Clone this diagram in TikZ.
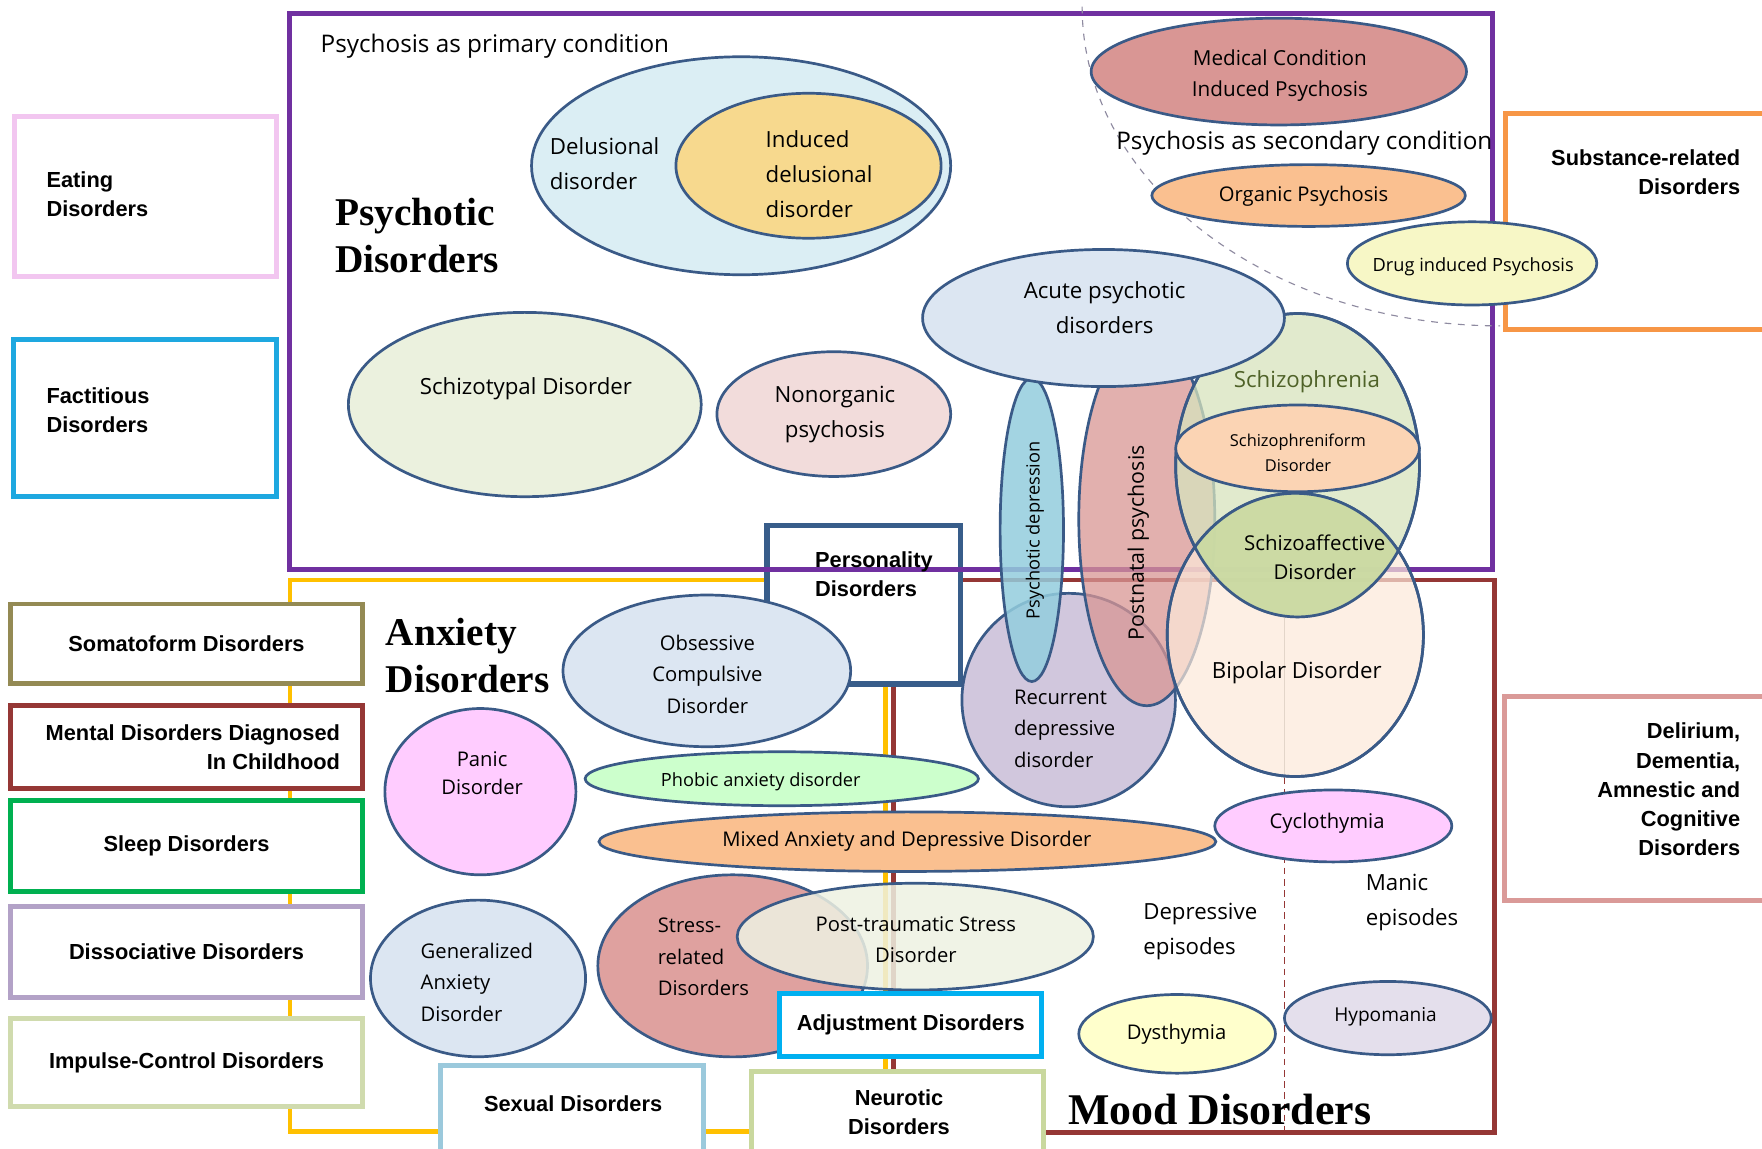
\documentclass[tikz,border=0pt]{standalone}
\usepackage{fontspec}
\setmainfont{Open Sans}
\newfontfamily\boxfont{Liberation Sans}
\newfontfamily\headfont{Liberation Serif}
\usetikzlibrary{shapes.geometric}

% frame colours
\definecolor{psypurple}{HTML}{7030A0}
\definecolor{anxyellow}{HTML}{FFC000}
\definecolor{moodred}{HTML}{953735}
\definecolor{edge}{HTML}{3A5A87}
\definecolor{perscol}{HTML}{385D8A}
\definecolor{eatcol}{HTML}{F2C6F0}
\definecolor{factcol}{HTML}{1EA8E0}
\definecolor{somacol}{HTML}{948A54}
\definecolor{sleepcol}{HTML}{00B050}
\definecolor{dissocol}{HTML}{B3A2C7}
\definecolor{impulcol}{HTML}{D0DBAE}
\definecolor{sexcol}{HTML}{9BC9DC}
\definecolor{neurcol}{HTML}{C9D89E}
\definecolor{adjcol}{HTML}{00B0F0}
\definecolor{subscol}{HTML}{F79646}
\definecolor{delircol}{HTML}{DA9A98}
\definecolor{arcgray}{HTML}{8E8AA0}
% ellipse fills
\definecolor{delblue}{HTML}{DBEEF4}
\definecolor{indgold}{HTML}{F7D98E}
\definecolor{stypcol}{HTML}{EBF1DE}
\definecolor{nonorgcol}{HTML}{F2DCDB}
\definecolor{rosecol}{HTML}{D99694}
\definecolor{orgcol}{HTML}{FAC090}
\definecolor{drugcol}{HTML}{F7F7C6}
\definecolor{paleblue}{HTML}{DCE6F2}
\definecolor{rddcol}{HTML}{CCC1DA}
\definecolor{schizcol}{HTML}{D7E4BD}
\definecolor{bipcol}{HTML}{FDE9D9}
\definecolor{sfmcol}{HTML}{FBD4B4}
\definecolor{pdepcol}{HTML}{93CDDD}
\definecolor{pinkcol}{HTML}{FFCCFF}
\definecolor{phobcol}{HTML}{CCFFCC}
\definecolor{stresscol}{HTML}{DFA19F}
\definecolor{ptsdcol}{HTML}{EEF1E2}
\definecolor{dystcol}{HTML}{FFFFCC}
\definecolor{hypocol}{HTML}{E4DFEC}
\definecolor{lensgreen}{HTML}{C5D89C}
\definecolor{schiztxt}{HTML}{4F6228}

\begin{document}
\begin{tikzpicture}[x=0.5pt,y=-0.5pt,
      oval/.style n args={3}{ellipse, draw=edge, line width=1.2pt, fill=#1,
         minimum width=#2pt, minimum height=#3pt, inner sep=0pt},
      grpbox/.style={rectangle, draw=#1, line width=2.2pt, fill=white, inner sep=0pt},
      lbl/.style={font=\fontsize{9.9}{15.5}\selectfont, align=center, inner sep=0pt},
      lblm/.style={font=\fontsize{9}{14}\selectfont, align=center, inner sep=0pt},
      lbls/.style={font=\fontsize{8.1}{11}\selectfont, align=center, inner sep=0pt},
      boxtxt/.style={font=\boxfont\bfseries\fontsize{9.7}{13}\selectfont, align=center, inner sep=0pt},
      headtxt/.style={font=\headfont\bfseries\fontsize{17.5}{21}\selectfont, align=left, inner sep=0pt}]%
      % ~ canvas
      \fill[white] (0,0) rectangle (1568,1022);%
      \useasboundingbox (0,0) rectangle (1568,1022);%
      %
      % ~ group frames
      \node[grpbox=perscol, fill=none, line width=2.4pt, minimum width=86.2pt, minimum height=70.5pt] (pers) at (768.8,538.2) {};
      \draw[anxyellow, line width=2pt] (pers.west |- 0,516) -- (258,516) -- (258,1007) -- (788,1007) -- (788,0 |- pers.south);%
      \draw[moodred, line width=2pt] (pers.east |- 0,516) -- (1330,516) -- (1330,1008) -- (795,1008) -- (795,0 |- pers.south);%
      \draw[psypurple, line width=2.2pt] (258,12) rectangle (1328,507);%
      % right boxes (drug ellipse lies over them)
      \node[grpbox=subscol, minimum width=135pt, minimum height=96.3pt] (subs) at (1475,197.3) {};
      \node[grpbox=delircol, minimum width=135.5pt, minimum height=90.5pt] (delir) at (1474.5,710.5) {};
      % secondary psychosis arc, episode divider
      \draw[arcgray, dashed, line width=0.5pt] (963,6) arc[start angle=180, end angle=90, x radius=372, y radius=284];%
      \draw[gray!70, line width=0.4pt] (1143,549) -- (1143,692);%
      \draw[moodred, densely dashed, line width=0.6pt] (1143,692) -- (1143,1008);%
      %
      % ~ psychotic ellipses
      \node[oval={delblue}{186.5}{97}] (delus) at (659.5,147.5) {};
      \node[oval={indgold}{118}{64.5}] (induc) at (719.5,147.5) {};
      \node[oval={stypcol}{157}{82}] (stypal) at (467,360) {};
      \node[oval={nonorgcol}{104}{55.5}] (nonorg) at (742,368.5) {};
      \node[oval={rosecol}{167}{47.5}] (medic) at (1138,63.7) {};
      \node[oval={orgcol}{139.5}{27.5}] (organ) at (1164.5,174) {};
      \node[oval={drugcol}{111}{37}] (drug) at (1310,234.4) {};
      %
      % ~ overlap cluster
      \node[oval={rddcol}{95}{95}, fill opacity=0.9] (rdd) at (951,623) {};
      \node[oval={rosecol}{60.5}{166}, fill opacity=0.75] (postn) at (1020.5,462) {};
      \node[oval={schizcol}{108.5}{135}, fill opacity=0.75] (schizo) at (1154.7,414) {};
      \node[oval={bipcol}{114}{126}, fill opacity=0.7] (bipol) at (1152.7,565) {};
      \begin{scope}
         \clip (schizo.center) ellipse [x radius=108.5, y radius=135];
         \fill[lensgreen, fill opacity=0.85] (bipol.center) ellipse [x radius=114, y radius=126];
      \end{scope}
      \draw[edge, line width=1.2pt] (schizo.center) ellipse [x radius=108.5, y radius=135];%
      \draw[edge, line width=1.2pt] (bipol.center) ellipse [x radius=114, y radius=126];%
      \node[oval={sfmcol}{108.5}{38.6}] (sfm) at (1154.7,399) {};
      \node[oval={pdepcol}{28.2}{135}, fill opacity=0.85] (pdep) at (918.2,471.5) {};
      \node[oval={paleblue}{161}{61}] (acute) at (982,283) {};
      %
      % ~ anxiety ellipses
      \node[oval={paleblue}{128}{67.5}] (ocd) at (629,597) {};
      \node[oval={pinkcol}{85}{74}] (panic) at (427.5,704.5) {};
      \node[oval={phobcol}{175}{24}] (phobic) at (695.7,693) {};
      \node[oval={orgcol}{274.5}{26.5}] (mixed) at (807.5,749) {};
      \node[oval={paleblue}{95.7}{69.7}] (gad) at (425.4,870.7) {};
      \node[oval={stresscol}{120}{81}] (stress) at (652,859.5) {};
      \node[oval={ptsdcol}{158.5}{47.5}, fill opacity=0.85] (ptsd) at (814.5,833.5) {};
      %
      % ~ mood ellipses
      \node[oval={pinkcol}{105.5}{32}] (cyclo) at (1186.5,735) {};
      \node[oval={dystcol}{87.5}{35}] (dysth) at (1047.5,920) {};
      \node[oval={hypocol}{92}{32.6}] (hypo) at (1235,906) {};
      %
      % ~ side boxes
      \node[grpbox=eatcol, minimum width=116.5pt, minimum height=71pt] (eat) at (129.5,175) {};
      \node[grpbox=factcol, minimum width=117pt, minimum height=70pt] (fact) at (129,372) {};
      \node[grpbox=moodred, minimum width=156.5pt, minimum height=37pt] (ment) at (166,664.5) {};
      \foreach \nm/\yc/\hh/\col/\txt in {soma/573/71/somacol/Somatoform Disorders,
            sleep/753/81/sleepcol/Sleep Disorders,
            disso/847/81/dissocol/Dissociative Disorders,
            impul/945.5/79/impulcol/Impulse-Control Disorders}%
         {%
            \node[grpbox=\col, boxtxt, minimum width=156.5pt, minimum height=\hh*0.5pt] (\nm) at (166,\yc) {\txt};
         }%
      \node[grpbox=sexcol, minimum width=117pt, minimum height=46pt] (sex) at (509,994) {};
      \node[grpbox=neurcol, minimum width=130.2pt, minimum height=43.2pt] (neur) at (798.6,996.9) {};
      \node[grpbox=adjcol, boxtxt, minimum width=116.5pt, minimum height=28pt] (adj) at (810.5,912) {Adjustment Disorders};
      %
      % ~ box texts
      \node[boxtxt, anchor=west, align=left] (eatT) at (41,173) {Eating\\Disorders};
      \node[boxtxt, anchor=west, align=left] (factT) at (41,365) {Factitious\\Disorders};
      \node[boxtxt, anchor=east, align=right] (mentT) at (303,665) {Mental Disorders Diagnosed\\In Childhood};
      \node[boxtxt, anchor=west, align=left] (persT) at (725,511) {Personality\\Disorders};
      \node[boxtxt, anchor=east, align=right] (subsT) at (1549,153.5) {Substance-related\\Disorders};
      \node[boxtxt, anchor=east, align=right] (delirT) at (1549,702.5) {Delirium,\\Dementia,\\Amnestic and\\Cognitive\\Disorders};
      \node[boxtxt] (sexT) at (510,982) {Sexual Disorders};
      \node[boxtxt] (neurT) at (800,990) {Neurotic\\Disorders};
      %
      % ~ psychotic texts
      \node[lbl, font=\fontsize{10.8}{14}\selectfont, anchor=west] (primT) at (285,41) {Psychosis as primary condition};
      \node[headtxt, anchor=west] (psyH) at (298,209.5) {Psychotic\\Disorders};
      \node[lbl, anchor=west, align=left] (delusT) at (489,146) {Delusional\\disorder};
      \node[lbl, anchor=west, align=left] (inducT) at (681,155) {Induced\\delusional\\disorder};
      \node[lbl] (stypalT) at (468,346) {Schizotypal Disorder};
      \node[lbl] (nonorgT) at (743,369) {Nonorganic\\psychosis};
      \node[lblm, font=\fontsize{9.2}{14}\selectfont] (medicT) at (1139,67.5) {Medical Condition\\Induced Psychosis};
      \node[lbl, font=\fontsize{10.8}{14}\selectfont, anchor=west] (secT) at (993,127) {Psychosis as secondary condition};
      \node[lblm] (organT) at (1160,175) {Organic Psychosis};
      \node[lbls] (drugT) at (1311,237) {Drug induced Psychosis};
      \node[lbl] (acuteT) at (983,273.5) {Acute psychotic\\disorders};
      \node[lbl, text=schiztxt] (schizoT) at (1163,340) {Schizophrenia};
      \node[lbls, font=\fontsize{7.3}{11}\selectfont] (sfmT) at (1155,402.7) {Schizophreniform\\Disorder};
      \node[lblm, font=\fontsize{9.1}{12.8}\selectfont] (saffT) at (1170,496) {Schizoaffective\\Disorder};
      \node[lbl] (bipolT) at (1154,599) {Bipolar Disorder};
      \node[lblm, font=\fontsize{9.5}{14}\selectfont, rotate=90] (postnT) at (1013,483) {Postnatal psychosis};
      \node[lbls, rotate=90] (pdepT) at (921,472) {Psychotic depression};
      %
      % ~ anxiety texts
      \node[headtxt, anchor=west] (anxH) at (343,583.5) {Anxiety\\Disorders};
      \node[lblm] (ocdT) at (629.5,600) {Obsessive\\Compulsive\\Disorder};
      \node[lblm, font=\fontsize{9}{12.5}\selectfont] (panicT) at (429,688) {Panic\\Disorder};
      \node[lbls] (phobT) at (677,696) {Phobic anxiety disorder};
      \node[lblm] (mixedT) at (807,749) {Mixed Anxiety and Depressive Disorder};
      \node[lblm, anchor=west, align=left] (gadT) at (374,874) {Generalized\\Anxiety\\Disorder};
      \node[lblm, anchor=west, align=left] (stressT) at (585,851.5) {Stress-\\related\\Disorders};
      \node[lblm] (ptsdT) at (815,836) {Post-traumatic Stress\\Disorder};
      %
      % ~ mood texts
      \node[lblm, anchor=west, align=left] (rddT) at (902,648.5) {Recurrent\\depressive\\disorder};
      \node[lblm] (cycloT) at (1181,733) {Cyclothymia};
      \node[lbl, anchor=west, align=left] (depT) at (1017,829) {Depressive\\episodes};
      \node[lbl, anchor=west, align=left] (manT) at (1215,803.5) {Manic\\episodes};
      \node[lblm] (dystT) at (1047,920) {Dysthymia};
      \node[lblm, font=\fontsize{8.5}{12}\selectfont] (hypoT) at (1233,905) {Hypomania};
      \node[headtxt, font=\headfont\bfseries\fontsize{19.5}{22}\selectfont, anchor=west] (moodH) at (950,987) {Mood Disorders};
         %
   \end{tikzpicture}
\end{document}
